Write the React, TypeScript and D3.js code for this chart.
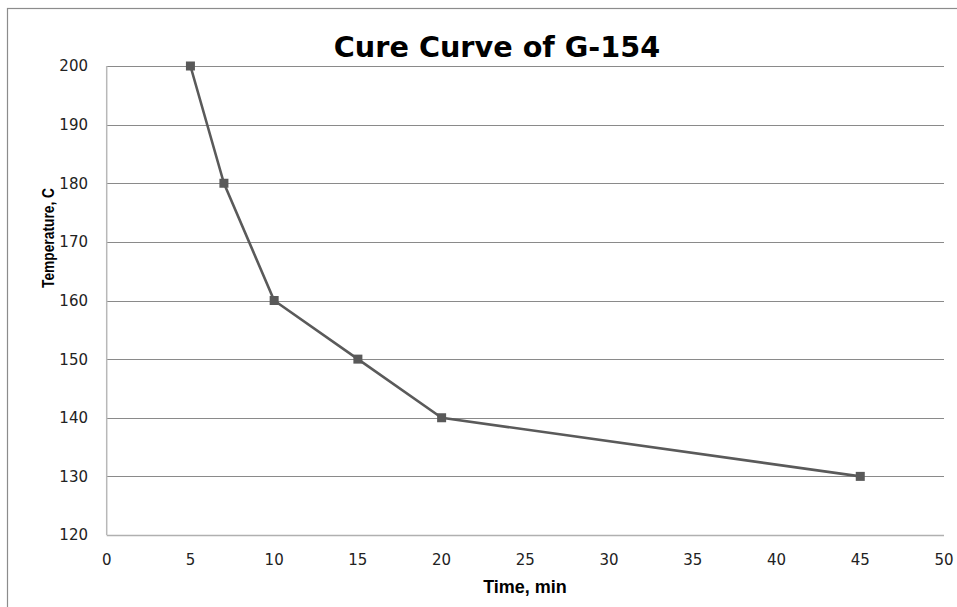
import React from "react";
import * as d3 from "d3";

const times = [5, 7, 10, 15, 20, 45];
const temps = [200, 180, 160, 150, 140, 130];
const xTicks = [0, 5, 10, 15, 20, 25, 30, 35, 40, 45, 50];
const yTicks = [120, 130, 140, 150, 160, 170, 180, 190, 200];
const title = "Cure Curve of G-154";
const xTitle = "Time, min";
const yTitle = "Temperature, C";

const W = 957;
const H = 607;
const left = 106.7;
const right = 944;
const top = 66;
const bottom = 535;

export default function App() {
  const x = d3.scaleLinear().domain([0, 50]).range([left, right]);
  const y = d3.scaleLinear().domain([120, 200]).range([bottom, top]);
  const pts = times.map((t, i) => [x(t), y(temps[i])] as [number, number]);
  const line = d3.line()(pts) || "";
  return (
    <svg
      width={W}
      height={H}
      style={{ position: "absolute", left: 0, top: 0, background: "#fff" }}
    >
      <rect x={0} y={0} width={W} height={H} fill="#fff" />
      <rect x={7.5} y={8.5} width={2000} height={2000} fill="none" stroke="#8c8c8c" strokeWidth={1.2} />
      {yTicks.map((v) => (
        <line
          key={"g" + v}
          x1={left}
          x2={right}
          y1={Math.round(y(v)) + 0.5}
          y2={Math.round(y(v)) + 0.5}
          stroke={v === 120 ? "#b0b0b0" : "#8a8a8a"}
          strokeWidth={v === 120 ? 1.5 : 1}
        />
      ))}
      <line x1={left} x2={left} y1={top} y2={bottom} stroke="#b8b8b8" strokeWidth={1.5} />
      {yTicks.map((v) => (
        <text
          key={"y" + v}
          x={88}
          y={y(v)}
          dy="0.36em"
          textAnchor="end"
          fontFamily="DejaVu Sans"
          fontSize={15}
          fill="#222"
        >
          {v}
        </text>
      ))}
      {xTicks.map((v) => (
        <text
          key={"x" + v}
          x={x(v)}
          y={565}
          textAnchor="middle"
          fontFamily="DejaVu Sans"
          fontSize={15}
          fill="#222"
        >
          {v}
        </text>
      ))}
      <path d={line} fill="none" stroke="#5a5a5a" strokeWidth={2.6} strokeLinejoin="round" />
      {pts.map((p, i) => (
        <rect key={"m" + i} x={p[0] - 4.5} y={p[1] - 4.5} width={9} height={9} fill="#595959" />
      ))}
      <text
        x={497}
        y={57}
        textAnchor="middle"
        fontFamily="DejaVu Sans"
        fontWeight="bold"
        fontSize={28.7}
        fill="#000"
      >
        {title}
      </text>
      <text
        x={525}
        y={593}
        textAnchor="middle"
        fontFamily="Liberation Sans"
        fontWeight="bold"
        fontSize={18}
        fill="#000"
      >
        {xTitle}
      </text>
      <text
        transform={`translate(54,238) rotate(-90)`}
        textAnchor="middle"
        fontFamily="Liberation Sans"
        fontWeight="bold"
        fontSize={16.5}
        textLength={100}
        lengthAdjust="spacingAndGlyphs"
        fill="#000"
      >
        {yTitle}
      </text>
    </svg>
  );
}
